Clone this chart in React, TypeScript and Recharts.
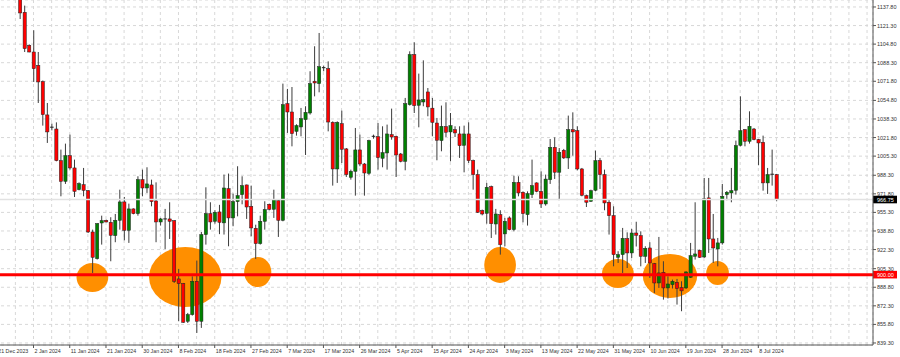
import React from 'react'
import {
  ComposedChart,
  Bar,
  XAxis,
  YAxis,
  CartesianGrid,
  ReferenceLine,
  ReferenceArea,
} from 'recharts'

// daily bars, first one is 21 Dec 2023 (the first five sit above the visible range)
const firstBar = -5
const futureSlots = 20

const opens = [
  1186, 1178, 1168, 1162, 1156,
  1150, 1133.1, 1103.7, 1097.8, 1086.0, 1071.5, 1041.9, 1031.0, 1029.4, 1001.3,
  982.9, 1005.7, 994.8, 975.5, 979.9, 974.6, 937.9, 914.2, 945.9, 948.3,
  946.5, 934.7, 948.3, 964.6, 939.4, 958.4, 954.2, 984.4, 977.0, 979.7,
  965.5, 946.8, 949.5, 949.5, 947.9, 896.2, 892.0, 858.6, 864.5, 894.1,
  858.6, 935.6, 954.2, 947.4, 955.7, 946.0, 976.4, 950.4, 964.9, 971.1,
  979.7, 960.7, 941.2, 927.6, 947.4, 962.5, 958.1, 965.8, 948.3, 1051.9,
  1044.5, 1027.3, 1031.2, 1037.7, 1043.6, 1071.8, 1069.7, 1083.6, 1083.0, 1035.3,
  993.9, 1034.1, 1011.7, 986.5, 991.8, 1010.8, 998.3, 990.0, 1022.5, 1022.6,
  1003.4, 1008.1, 1024.4, 1022.9, 1007.2, 1000.7, 1051.0, 1095.5, 1050.5, 1053.4,
  1062.3, 1047.9, 1034.7, 1019.1, 1031.5, 1026.8, 1028.8, 1025.0, 1014.9, 1025.0,
  1001.3, 988.9, 956.9, 954.5, 978.2, 945.0, 953.3, 936.2, 950.4, 940.0,
  982.0, 973.2, 953.3, 971.1, 981.5, 974.0, 962.8, 984.4, 1013.1, 991.0,
  1010.5, 1003.7, 1028.8, 1027.9, 993.9, 970.2, 965.2, 975.0, 1001.3, 988.9,
  964.3, 952.4, 915.4, 917.8, 932.0, 919.3, 937.0, 934.7, 916.3, 923.7,
  909.8, 892.6, 902.1, 888.2, 891.1, 893.2, 888.5, 888.2, 897.7, 916.3,
  921.6, 915.7, 968.2, 931.7, 922.8, 928.2, 971.1, 972.6, 975.0, 1014.9,
  1028.8, 1018.5, 1029.4, 1020.0, 1017.6, 981.5, 988.9, 988.9,
]

const highs = [
  1192, 1183, 1175, 1166, 1160,
  1153, 1139.0, 1104.6, 1117.1, 1097.8, 1072.5, 1052.5, 1034.2, 1035.3, 1011.1,
  1016.4, 1024.4, 1002.2, 982.0, 994.8, 975.2, 940.0, 945.9, 952.4, 948.9,
  951.0, 953.9, 975.5, 969.0, 963.1, 958.9, 987.4, 993.3, 995.4, 984.4,
  982.0, 950.4, 958.4, 964.3, 948.5, 905.1, 892.6, 866.0, 898.5, 912.5,
  937.9, 977.6, 964.3, 957.2, 962.0, 988.9, 989.8, 972.0, 996.3, 987.4,
  980.0, 979.1, 944.4, 952.4, 965.2, 963.1, 975.5, 966.7, 1069.7, 1065.0,
  1066.7, 1033.6, 1048.1, 1049.6, 1080.7, 1102.9, 1114.7, 1085.7, 1089.5, 1036.2,
  1036.2, 1045.7, 1012.5, 993.3, 1030.3, 1024.4, 999.2, 1019.9, 1024.4, 1034.7,
  1031.8, 1033.3, 1047.5, 1023.5, 1008.1, 1057.0, 1098.4, 1106.4, 1078.6, 1090.4,
  1065.8, 1057.0, 1039.2, 1050.2, 1053.1, 1043.6, 1031.8, 1031.8, 1032.4, 1035.3,
  1002.2, 993.3, 957.8, 981.5, 979.1, 958.4, 957.2, 950.4, 951.8, 987.9,
  987.4, 974.0, 974.0, 1002.2, 982.0, 991.8, 988.9, 1020.5, 1022.0, 1012.5,
  1011.7, 1041.3, 1044.2, 1031.8, 994.8, 971.1, 975.5, 1010.2, 1003.7, 993.3,
  966.7, 960.7, 920.8, 941.5, 937.6, 940.6, 947.0, 938.5, 925.2, 928.8,
  910.4, 933.5, 911.9, 898.5, 895.6, 896.2, 894.1, 903.0, 928.2, 964.3,
  922.2, 985.9, 985.9, 953.9, 932.6, 980.6, 974.3, 994.8, 1019.1, 1058.4,
  1029.4, 1045.1, 1030.3, 1020.5, 1023.5, 994.8, 1011.1, 989.5,
]

const lows = [
  1172, 1163, 1158, 1152, 1147,
  1127.1, 1097.8, 1097.5, 1071.2, 1052.5, 1032.4, 1017.0, 1028.2, 1000.7, 969.6,
  980.6, 993.3, 969.0, 974.9, 969.6, 937.0, 901.5, 913.4, 926.7, 946.5,
  911.9, 928.8, 940.0, 930.5, 928.2, 953.6, 952.4, 969.6, 972.6, 960.7,
  928.8, 943.6, 922.8, 931.7, 892.6, 858.6, 857.1, 857.1, 863.6, 848.2,
  852.7, 926.7, 940.0, 945.3, 936.0, 935.6, 925.2, 943.0, 951.8, 962.5,
  949.5, 934.1, 914.0, 926.7, 940.0, 957.2, 950.4, 933.5, 947.4, 1025.9,
  1014.0, 1023.5, 1022.9, 1006.3, 1042.2, 1058.4, 1062.0, 1080.7, 1027.3, 979.1,
  981.5, 999.2, 986.8, 984.4, 970.2, 996.3, 970.2, 988.6, 1020.8, 993.3,
  995.4, 993.3, 1019.9, 986.8, 999.8, 992.7, 1050.2, 1043.6, 1030.9, 1049.6,
  1040.7, 1022.9, 1001.6, 1009.6, 1022.3, 1000.7, 1022.3, 1003.7, 990.9, 999.2,
  975.5, 954.8, 952.7, 945.3, 932.6, 935.6, 917.8, 925.2, 939.4, 938.5,
  969.6, 946.5, 943.6, 968.1, 973.2, 959.2, 961.3, 980.6, 985.0, 967.3,
  1002.8, 993.9, 1005.7, 992.7, 969.6, 960.1, 964.6, 974.0, 976.1, 957.2,
  935.6, 907.4, 910.4, 901.5, 905.9, 914.8, 925.0, 907.4, 910.4, 897.1,
  883.7, 888.2, 877.8, 878.8, 887.7, 873.4, 867.5, 887.3, 897.1, 913.4,
  914.8, 914.8, 919.3, 910.4, 907.4, 926.7, 966.1, 964.3, 971.1, 1014.0,
  1014.0, 1016.4, 1019.4, 997.2, 974.6, 971.7, 979.1, 965.2,
]

const closes = [
  1178, 1168, 1162, 1156, 1150,
  1132.5, 1100.8, 1097.8, 1083.0, 1071.2, 1042.2, 1026.8, 1030.6, 1001.3, 982.9,
  1005.7, 994.8, 974.0, 980.9, 974.9, 937.9, 915.4, 945.3, 948.0, 946.8,
  935.0, 948.3, 964.6, 939.4, 958.4, 954.2, 984.4, 977.0, 980.6, 964.9,
  946.8, 949.5, 949.3, 947.4, 894.1, 892.0, 857.7, 864.5, 894.1, 858.6,
  935.6, 954.2, 946.8, 955.4, 946.5, 977.0, 950.4, 964.9, 970.2, 979.1,
  960.1, 941.5, 927.6, 947.4, 957.8, 958.1, 966.7, 948.3, 1051.0, 1044.5,
  1025.3, 1032.4, 1038.6, 1044.2, 1069.7, 1070.3, 1084.8, 1083.9, 1035.6, 993.9,
  1035.3, 1011.4, 988.9, 991.8, 1010.8, 998.3, 990.3, 1019.1, 1022.9, 1004.0,
  1008.4, 1025.0, 1022.3, 1006.3, 1000.7, 1051.9, 1095.5, 1050.2, 1055.2, 1055.5,
  1049.0, 1035.3, 1019.4, 1031.8, 1026.5, 1032.4, 1025.9, 1014.6, 1025.0, 1001.3,
  988.9, 955.4, 953.9, 977.6, 945.3, 953.9, 926.7, 947.4, 940.0, 982.0,
  972.6, 954.2, 972.0, 979.1, 974.0, 962.8, 984.9, 1013.1, 991.0, 1008.7,
  1003.7, 1028.8, 1026.8, 993.9, 970.5, 964.3, 974.6, 1001.3, 988.9, 963.7,
  952.4, 917.8, 917.8, 932.3, 919.3, 937.0, 935.0, 916.3, 923.4, 910.4,
  892.6, 901.5, 888.2, 891.7, 894.1, 887.7, 885.6, 902.4, 916.9, 918.4,
  915.4, 967.3, 931.7, 923.7, 928.2, 969.6, 973.2, 974.6, 1014.6, 1027.9,
  1018.5, 1031.8, 1020.0, 1017.0, 981.5, 988.9, 989.2, 966.75,
]

const labelBars = [-5, 3, 11, 19, 27, 35, 43, 51, 59, 67, 75, 83, 91, 99, 107, 115, 123, 131, 139, 147, 155, 163]
const labelTexts = [
  '21 Dec 2023', '2 Jan 2024', '11 Jan 2024', '21 Jan 2024', '30 Jan 2024', '8 Feb 2024',
  '18 Feb 2024', '27 Feb 2024', '7 Mar 2024', '17 Mar 2024', '26 Mar 2024', '5 Apr 2024',
  '15 Apr 2024', '24 Apr 2024', '3 May 2024', '13 May 2024', '22 May 2024', '31 May 2024',
  '10 Jun 2024', '19 Jun 2024', '28 Jun 2024', '8 Jul 2024',
]

const priceTicks = [
  1137.8, 1121.3, 1104.8, 1088.3, 1071.8, 1054.8, 1038.3, 1021.8, 1005.3, 988.3,
  971.8, 955.3, 938.8, 922.3, 905.3, 888.8, 872.3, 855.8, 839.3,
]

const supportLevel = 900
const lastPrice = 966.75

// orange highlight zones (bar range, price range)
const zoneFrom = [13, 29, 50, 103, 129, 138, 152]
const zoneTo = [19, 44, 55, 109, 135, 149, 156]
const zoneLow = [884.6, 871.3, 889.0, 892.6, 888.2, 879.3, 890.8]
const zoneHigh = [910.4, 924.6, 915.7, 924.6, 913.9, 918.4, 912.1]

const bars = opens.map((o, k) => ({ i: firstBar + k, o, h: highs[k], l: lows[k], c: closes[k] }))
const slots: any[] = [
  ...bars,
  ...Array.from({ length: futureSlots }, (_, k) => ({ i: firstBar + opens.length + k })),
]

function Candle(props: any) {
  const { x, y, width, height, payload } = props
  if (!payload || payload.h == null) return <g />
  const { o, h, l, c } = payload
  const top = Math.min(y, y + height)
  const span = Math.abs(height)
  const py = (v: number) => (h === l ? top : top + ((h - v) / (h - l)) * span)
  const cx = x + width / 2
  const bodyTop = py(Math.max(o, c))
  const bodyBot = py(Math.min(o, c))
  return (
    <g>
      <line x1={cx} x2={cx} y1={top} y2={top + span} stroke="#3c3c3c" strokeWidth={1} />
      {bodyBot - bodyTop < 0.8 ? (
        <line x1={cx - 1.8} x2={cx + 1.8} y1={bodyTop} y2={bodyTop} stroke="#222" strokeWidth={1} />
      ) : (
        <rect
          x={cx - 1.6}
          y={bodyTop}
          width={3.2}
          height={bodyBot - bodyTop}
          fill={c >= o ? '#008000' : '#ff0000'}
          stroke="#202020"
          strokeWidth={0.5}
        />
      )}
    </g>
  )
}

function Zone(props: any) {
  const { x, y, width, height, fill } = props
  return (
    <ellipse
      cx={x + width / 2}
      cy={y + height / 2}
      rx={Math.abs(width) / 2}
      ry={Math.abs(height) / 2}
      fill={fill}
    />
  )
}

function DateTick(props: any) {
  const { x, y, payload } = props
  const k = labelBars.indexOf(payload.value)
  if (k < 0) return <g />
  return (
    <g>
      <line x1={x} x2={x} y1={y} y2={y + 3} stroke="#555" strokeWidth={1} />
      <text x={x + 1} y={y + 8} fontSize={5.3} fill="#333" textAnchor="start">
        {labelTexts[k]}
      </text>
    </g>
  )
}

function PriceTag(props: any) {
  const { viewBox, text, bg } = props
  if (!viewBox) return null
  const right = viewBox.x + viewBox.width
  const cy = viewBox.y + (viewBox.height || 0) / 2
  return (
    <g>
      <rect x={right} y={cy - 3.8} width={24} height={7.6} fill={bg} />
      <text x={right + 4} y={cy + 2} fontSize={5.5} fill="#fff">
        {text}
      </text>
    </g>
  )
}

export default function App() {
  return (
    <div
      style={{
        position: 'absolute',
        left: -5,
        top: 0,
        fontFamily: '"Liberation Sans", Arial, sans-serif',
      }}
    >
      <ComposedChart width={905} height={357} data={slots} margin={{ top: 0, right: 0, bottom: 0, left: 0 }}>
        <CartesianGrid stroke="#d8d8d8" strokeDasharray="3 3" />
        <XAxis
          dataKey="i"
          type="category"
          interval={3}
          height={12}
          padding={{ left: 0, right: 3.7 }}
          axisLine={{ stroke: '#555' }}
          tickLine={false}
          tickSize={0}
          tickMargin={0}
          tick={(p: any) => <DateTick {...p} />}
        />
        <YAxis
          orientation="right"
          type="number"
          width={27}
          domain={[837.5, 1144]}
          allowDataOverflow
          ticks={priceTicks}
          interval={0}
          tickFormatter={(v: number) => v.toFixed(2)}
          tick={{ fontSize: 5.5, fill: '#333' }}
          tickSize={3}
          tickMargin={1}
          axisLine={{ stroke: '#555' }}
          tickLine={{ stroke: '#555' }}
        />
        {zoneFrom.map((f, k) => (
          <ReferenceArea
            key={k}
            x1={f}
            x2={zoneTo[k]}
            y1={zoneLow[k]}
            y2={zoneHigh[k]}
            fill="#ff8f00"
            fillOpacity={1}
            stroke="none"
            shape={(p: any) => <Zone {...p} />}
          />
        ))}
        <ReferenceLine
          y={lastPrice}
          stroke="#e2e2e2"
          strokeWidth={1.5}
          label={<PriceTag text={lastPrice.toFixed(2)} bg="#000" />}
        />
        <Bar
          dataKey={(d: any) => (d.h == null ? null : [d.l, d.h])}
          barSize={3}
          shape={(p: any) => <Candle {...p} />}
          isAnimationActive={false}
        />
        <ReferenceLine
          y={supportLevel}
          stroke="#ff0000"
          strokeWidth={3}
          label={<PriceTag text={supportLevel.toFixed(2)} bg="#ff0000" />}
        />
      </ComposedChart>
    </div>
  )
}
